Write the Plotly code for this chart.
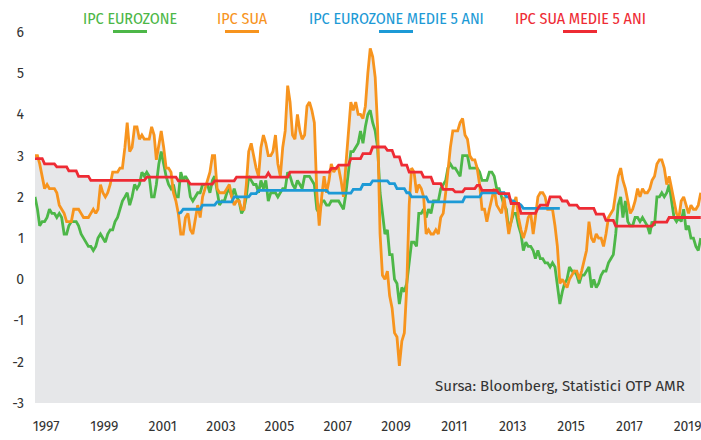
import pandas as pd
import plotly.graph_objects as go

# ---------------- data (monthly, Jan 1997 - Nov 2019) ----------------
start_month = "1997-01-01"

ipc_sua = [
    3.0, 3.0, 2.8, 2.5, 2.2, 2.3, 2.2, 2.2, 2.2, 2.1, 1.8, 1.7,   # 1997
    1.6, 1.4, 1.4, 1.4, 1.7, 1.7, 1.7, 1.6, 1.5, 1.5, 1.5, 1.6,   # 1998
    1.7, 1.6, 1.7, 2.3, 2.1, 2.0, 2.1, 2.3, 2.6, 2.6, 2.6, 2.7,   # 1999
    2.7, 3.2, 3.8, 3.1, 3.2, 3.7, 3.7, 3.4, 3.5, 3.4, 3.4, 3.4,   # 2000
    3.7, 3.5, 2.9, 3.3, 3.6, 3.2, 2.7, 2.7, 2.6, 2.1, 1.9, 1.6,   # 2001
    1.1, 1.1, 1.5, 1.6, 1.2, 1.1, 1.5, 1.8, 1.5, 2.0, 2.2, 2.4,   # 2002
    2.6, 3.0, 3.0, 2.2, 2.1, 2.1, 2.1, 2.2, 2.3, 2.0, 1.8, 1.9,   # 2003
    1.9, 1.7, 1.7, 2.3, 3.1, 3.3, 3.0, 2.7, 2.5, 3.2, 3.5, 3.3,   # 2004
    3.0, 3.0, 3.1, 3.5, 2.8, 2.5, 3.2, 3.6, 4.7, 4.3, 3.5, 3.4,   # 2005
    4.0, 3.6, 3.4, 3.5, 4.2, 4.3, 4.1, 3.8, 2.1, 1.3, 2.0, 2.5,   # 2006
    2.1, 2.4, 2.8, 2.6, 2.7, 2.7, 2.4, 2.0, 2.8, 3.5, 4.3, 4.1,   # 2007
    4.3, 4.0, 4.0, 3.9, 4.2, 5.0, 5.6, 5.4, 4.9, 3.7, 1.1, 0.1,   # 2008
    0.0, 0.2, -0.4, -0.7, -1.3, -1.4, -2.1, -1.5, -1.3, -0.2, 1.8, 2.7,  # 2009
    2.6, 2.1, 2.3, 2.2, 2.0, 1.1, 1.2, 1.1, 1.1, 1.2, 1.1, 1.5,   # 2010
    1.6, 2.1, 2.7, 3.2, 3.6, 3.6, 3.6, 3.8, 3.9, 3.5, 3.4, 3.0,   # 2011
    2.9, 2.9, 2.7, 2.3, 1.7, 1.7, 1.4, 1.7, 2.0, 2.2, 1.8, 1.7,   # 2012
    1.6, 2.0, 1.5, 1.1, 1.4, 1.8, 2.0, 1.5, 1.2, 1.0, 1.2, 1.5,   # 2013
    1.6, 1.1, 1.5, 2.0, 2.1, 2.1, 2.0, 1.7, 1.7, 1.7, 1.3, 0.8,   # 2014
    -0.1, 0.0, -0.1, -0.2, 0.0, 0.1, 0.2, 0.2, 0.0, 0.2, 0.5, 0.7,  # 2015
    1.4, 1.0, 0.9, 1.1, 1.0, 1.0, 0.8, 1.1, 1.5, 1.6, 1.7, 2.1,   # 2016
    2.5, 2.7, 2.4, 2.2, 1.9, 1.6, 1.7, 1.9, 2.2, 2.0, 2.2, 2.1,   # 2017
    2.1, 2.2, 2.4, 2.5, 2.8, 2.9, 2.9, 2.7, 2.3, 2.5, 2.2, 1.9,   # 2018
    1.6, 1.5, 1.9, 2.0, 1.8, 1.6, 1.8, 1.7, 1.7, 1.8, 2.1,        # 2019
]

ipc_eurozone = [
    2.0, 1.7, 1.3, 1.4, 1.4, 1.5, 1.7, 1.6, 1.6, 1.5, 1.6, 1.5,   # 1997
    1.1, 1.1, 1.3, 1.4, 1.4, 1.4, 1.3, 1.1, 1.0, 0.9, 0.8, 0.8,   # 1998
    0.7, 0.8, 1.0, 1.1, 1.0, 0.9, 1.1, 1.2, 1.2, 1.4, 1.5, 1.7,   # 1999
    1.9, 2.0, 2.1, 1.8, 2.0, 2.3, 2.2, 2.3, 2.6, 2.5, 2.6, 2.5,   # 2000
    2.0, 2.0, 2.3, 2.8, 3.1, 2.8, 2.5, 2.3, 2.2, 2.3, 2.0, 2.0,   # 2001
    2.6, 2.4, 2.5, 2.4, 2.0, 1.9, 2.0, 2.1, 2.1, 2.3, 2.3, 2.3,   # 2002
    2.1, 2.4, 2.5, 2.1, 1.8, 1.9, 1.9, 2.1, 2.2, 2.0, 2.2, 2.0,   # 2003
    1.9, 1.6, 1.7, 2.0, 2.5, 2.4, 2.3, 2.3, 2.1, 2.4, 2.2, 2.4,   # 2004
    1.9, 2.1, 2.1, 2.1, 2.0, 2.1, 2.2, 2.2, 2.6, 2.5, 2.3, 2.2,   # 2005
    2.4, 2.3, 2.2, 2.5, 2.5, 2.5, 2.4, 2.3, 1.7, 1.6, 1.9, 1.9,   # 2006
    1.8, 1.8, 1.9, 1.9, 1.9, 1.9, 1.8, 1.7, 2.1, 2.6, 3.1, 3.1,   # 2007
    3.2, 3.3, 3.6, 3.3, 3.7, 4.0, 4.1, 3.8, 3.6, 3.2, 2.1, 1.6,   # 2008
    1.1, 1.2, 0.6, 0.6, 0.0, -0.1, -0.6, -0.2, -0.3, -0.1, 0.5, 0.9,  # 2009
    0.9, 0.8, 1.6, 1.6, 1.7, 1.5, 1.7, 1.6, 1.9, 1.9, 1.9, 2.2,   # 2010
    2.3, 2.4, 2.7, 2.8, 2.7, 2.7, 2.6, 2.5, 3.0, 3.0, 3.0, 2.7,   # 2011
    2.7, 2.7, 2.7, 2.6, 2.4, 2.4, 2.4, 2.6, 2.6, 2.5, 2.2, 2.2,   # 2012
    2.0, 1.8, 1.7, 1.2, 1.4, 1.6, 1.6, 1.3, 1.1, 0.7, 0.9, 0.8,   # 2013
    0.8, 0.7, 0.5, 0.7, 0.5, 0.5, 0.4, 0.4, 0.3, 0.4, 0.3, -0.2,  # 2014
    -0.6, -0.3, -0.1, 0.0, 0.3, 0.2, 0.2, 0.1, -0.1, 0.1, 0.1, 0.2,  # 2015
    0.3, -0.2, 0.0, -0.2, -0.1, 0.1, 0.2, 0.2, 0.4, 0.5, 0.6, 1.1,   # 2016
    1.8, 2.0, 1.5, 1.9, 1.4, 1.3, 1.3, 1.5, 1.5, 1.4, 1.5, 1.4,   # 2017
    1.3, 1.1, 1.4, 1.3, 2.0, 2.0, 2.1, 2.0, 2.1, 2.3, 1.9, 1.5,   # 2018
    1.4, 1.5, 1.4, 1.7, 1.2, 1.3, 1.0, 1.0, 0.8, 0.7, 1.0,        # 2019
]

ipc_sua_medie_5 = [
    2.93, 2.93, 2.93, 2.93, 2.80, 2.80, 2.80, 2.80, 2.80, 2.73, 2.73, 2.73,  # 1997
    2.73, 2.73, 2.63, 2.63, 2.63, 2.63, 2.50, 2.50, 2.50, 2.50, 2.50, 2.40,  # 1998
    2.40, 2.40, 2.40, 2.40, 2.40, 2.40, 2.40, 2.40, 2.40, 2.40, 2.40, 2.40,  # 1999
    2.40, 2.40, 2.40, 2.40, 2.40, 2.40, 2.40, 2.40, 2.40, 2.40, 2.48, 2.48,  # 2000
    2.48, 2.48, 2.48, 2.48, 2.48, 2.48, 2.48, 2.48, 2.48, 2.48, 2.48, 2.39,  # 2001
    2.39, 2.39, 2.39, 2.39, 2.31, 2.31, 2.31, 2.31, 2.31, 2.31, 2.31, 2.31,  # 2002
    2.31, 2.31, 2.39, 2.39, 2.39, 2.39, 2.39, 2.39, 2.39, 2.39, 2.39, 2.48,  # 2003
    2.48, 2.48, 2.48, 2.48, 2.48, 2.48, 2.48, 2.48, 2.48, 2.48, 2.48, 2.48,  # 2004
    2.58, 2.48, 2.48, 2.48, 2.48, 2.48, 2.48, 2.48, 2.48, 2.60, 2.60, 2.60,  # 2005
    2.60, 2.60, 2.60, 2.60, 2.60, 2.60, 2.60, 2.60, 2.60, 2.60, 2.60, 2.60,  # 2006
    2.60, 2.60, 2.69, 2.69, 2.69, 2.77, 2.77, 2.77, 2.77, 2.77, 2.93, 2.93,  # 2007
    2.93, 2.93, 2.93, 3.05, 3.05, 3.05, 3.05, 3.21, 3.21, 3.21, 3.21, 3.21,  # 2008
    3.21, 3.13, 3.13, 3.13, 2.97, 2.97, 2.97, 2.77, 2.77, 2.77, 2.60, 2.60,  # 2009
    2.60, 2.60, 2.60, 2.60, 2.48, 2.48, 2.48, 2.48, 2.32, 2.32, 2.32, 2.32,  # 2010
    2.18, 2.18, 2.18, 2.18, 2.18, 2.12, 2.12, 2.12, 2.12, 2.20, 2.20, 2.20,  # 2011
    2.20, 2.20, 2.28, 2.28, 2.16, 2.16, 2.16, 2.16, 2.16, 2.16, 2.16, 2.08,  # 2012
    2.08, 2.08, 2.08, 2.08, 1.84, 1.84, 1.84, 1.84, 1.60, 1.60, 1.60, 1.60,  # 2013
    1.60, 1.60, 1.60, 1.72, 1.80, 1.80, 1.80, 1.80, 2.00, 2.00, 2.00, 2.00,  # 2014
    2.00, 1.90, 1.90, 1.90, 1.80, 1.80, 1.80, 1.80, 1.72, 1.72, 1.72, 1.72,  # 2015
    1.72, 1.72, 1.72, 1.58, 1.58, 1.58, 1.58, 1.43, 1.43, 1.43, 1.43, 1.29,  # 2016
    1.29, 1.29, 1.29, 1.29, 1.29, 1.29, 1.29, 1.29, 1.29, 1.29, 1.29, 1.29,  # 2017
    1.29, 1.29, 1.29, 1.39, 1.39, 1.39, 1.39, 1.39, 1.39, 1.50, 1.50, 1.50,  # 2018
    1.50, 1.50, 1.50, 1.50, 1.50, 1.50, 1.50, 1.50, 1.50, 1.50, 1.50,        # 2019
]

N = None
ipc_eurozone_medie_5 = [
    N, N, N, N, N, N, N, N, N, N, N, N,                                      # 1997
    N, N, N, N, N, N, N, N, N, N, N, N,                                      # 1998
    N, N, N, N, N, N, N, N, N, N, N, N,                                      # 1999
    N, N, N, N, N, N, N, N, N, N, N, N,                                      # 2000
    N, N, N, N, N, N, N, N, N, N, N, 1.60,                                   # 2001
    1.62, 1.70, 1.70, 1.70, 1.70, 1.70, 1.70, 1.70, 1.70, 1.80, 1.80, 1.80,  # 2002
    1.80, 1.80, 1.80, 1.88, 1.88, 1.88, 1.88, 1.88, 1.88, 1.88, 2.00, 2.00,  # 2003
    2.00, 2.00, 2.00, 2.00, 2.00, 2.08, 2.08, 2.08, 2.16, 2.16, 2.16, 2.16,  # 2004
    2.16, 2.16, 2.16, 2.16, 2.16, 2.16, 2.16, 2.16, 2.16, 2.16, 2.16, 2.16,  # 2005
    2.16, 2.16, 2.16, 2.16, 2.16, 2.16, 2.16, 2.16, 2.16, 2.16, 2.16, 2.16,  # 2006
    2.16, 2.09, 2.09, 2.09, 2.09, 2.09, 2.09, 2.09, 2.09, 2.09, 2.09, 2.18,  # 2007
    2.18, 2.18, 2.18, 2.30, 2.30, 2.30, 2.30, 2.39, 2.39, 2.39, 2.39, 2.39,  # 2008
    2.39, 2.39, 2.32, 2.32, 2.32, 2.20, 2.20, 2.20, 2.20, 2.10, 2.10, 2.00,  # 2009
    2.00, 2.00, 2.00, 2.00, 2.00, 2.00, 1.88, 1.88, 1.88, 1.88, 1.88, 1.88,  # 2010
    1.88, 1.88, 1.88, 1.88, 1.88, 1.88, 1.88, 1.88, 1.88, 2.00, 2.00, 2.00,  # 2011
    2.00, 2.00, 2.00, 2.00, 2.10, 2.10, 2.10, 2.10, 2.10, 2.10, 2.10, 2.10,  # 2012
    2.10, 2.10, 2.00, 2.00, 1.90, 1.90, 1.84, 1.84, 1.80, 1.72, 1.72, 1.72,  # 2013
    1.72, 1.72, 1.72, 1.72, 1.72, 1.72, 1.72, 1.72, 1.72, 1.72, 1.72, 1.72,  # 2014
    1.72, N, N, N, N, N, N, N, N, N, N, N,                                   # 2015
    N, N, N, N, N, N, N, N, N, N, N, N,                                      # 2016
    N, N, N, N, N, N, N, N, N, N, N, N,                                      # 2017
    N, N, N, N, N, N, N, N, N, N, N, N,                                      # 2018
    N, N, N, N, N, N, N, N, N, N, N,                                         # 2019
]

years = list(range(1997, 2020, 2))
tick_labels = [str(y) for y in years]
y_ticks = list(range(-3, 7))

names = ["IPC EUROZONE", "IPC SUA", "IPC EUROZONE MEDIE 5 ANI", "IPC SUA MEDIE 5 ANI"]
colors = ["#4DB748", "#F7941E", "#1D9AD6", "#EE2B34"]

# ---------------- figure ----------------
dates = pd.date_range(start_month, periods=len(ipc_sua), freq="MS")
series = [ipc_eurozone, ipc_sua, ipc_eurozone_medie_5, ipc_sua_medie_5]
upper = [max(v for v in vals if v is not None) for vals in zip(*series)]

fig = go.Figure()
fig.add_trace(go.Scatter(x=dates, y=[-3] * len(dates), mode="lines",
                         line=dict(width=0), hoverinfo="skip", showlegend=False))
fig.add_trace(go.Scatter(x=dates, y=upper, mode="lines", fill="tonexty",
                         fillcolor="#E6E7E9", line=dict(width=0),
                         hoverinfo="skip", showlegend=False))
for vals, name, col in zip(series, names, colors):
    fig.add_trace(go.Scatter(x=dates, y=vals, mode="lines", name=name,
                             line=dict(color=col, width=2.8), showlegend=False))

FONT = "Fira Sans Condensed, Ubuntu Condensed, Roboto Condensed, DejaVu Sans Condensed, Roboto, sans-serif"
TICKFONT = "Fira Sans, Ubuntu, Roboto, sans-serif"

W, H = 701, 440
L, T, R, B = 35, 32, 0, 440 - 403
pw, ph = W - L - R, H - T - B

def px2paper_x(px):
    return (px - L) / pw

def py2paper_y(py):
    return (H - B - py) / ph

legend_centers = [130, 242, 396, 580]
for name, col, cx in zip(names, colors, legend_centers):
    fig.add_annotation(text=name, x=px2paper_x(cx), y=py2paper_y(18), xref="paper", yref="paper",
                       xanchor="center", yanchor="middle", showarrow=False,
                       font=dict(family=FONT, size=16, color=col))
    fig.add_shape(type="line", xref="paper", yref="paper",
                  x0=px2paper_x(cx - 17), x1=px2paper_x(cx + 17),
                  y0=py2paper_y(31.5), y1=py2paper_y(31.5),
                  line=dict(color=col, width=3))

fig.add_annotation(text="Sursa: Bloomberg, Statistici OTP AMR",
                   x=px2paper_x(687), y=py2paper_y(386), xref="paper", yref="paper",
                   xanchor="right", yanchor="middle", showarrow=False,
                   font=dict(family=TICKFONT, size=15, color="#333333"))

fig.update_layout(
    width=W, height=H,
    margin=dict(l=L, r=R, t=T, b=B, autoexpand=False),
    paper_bgcolor="white", plot_bgcolor="white",
    showlegend=False,
    xaxis=dict(range=["1997-01-01", "2019-11-04"], showgrid=False, zeroline=False,
               showline=False, ticks="", automargin=False,
               tickvals=[f"{y}-05-20" for y in years], ticktext=tick_labels,
               tickfont=dict(family=TICKFONT, size=14, color="#333333"),
               ticklabelstandoff=13, ticklabeloverflow="allow"),
    yaxis=dict(range=[-3, 6], showgrid=False, zeroline=False, showline=False,
               ticks="", automargin=False, tickvals=y_ticks,
               ticktext=[str(v) for v in y_ticks],
               tickfont=dict(family=TICKFONT, size=14, color="#333333"),
               ticklabelstandoff=10),
)

fig.write_html("out.html",
               config={"displayModeBar": False},
               post_script="document.body.style.margin='0';document.body.style.overflow='hidden';")
